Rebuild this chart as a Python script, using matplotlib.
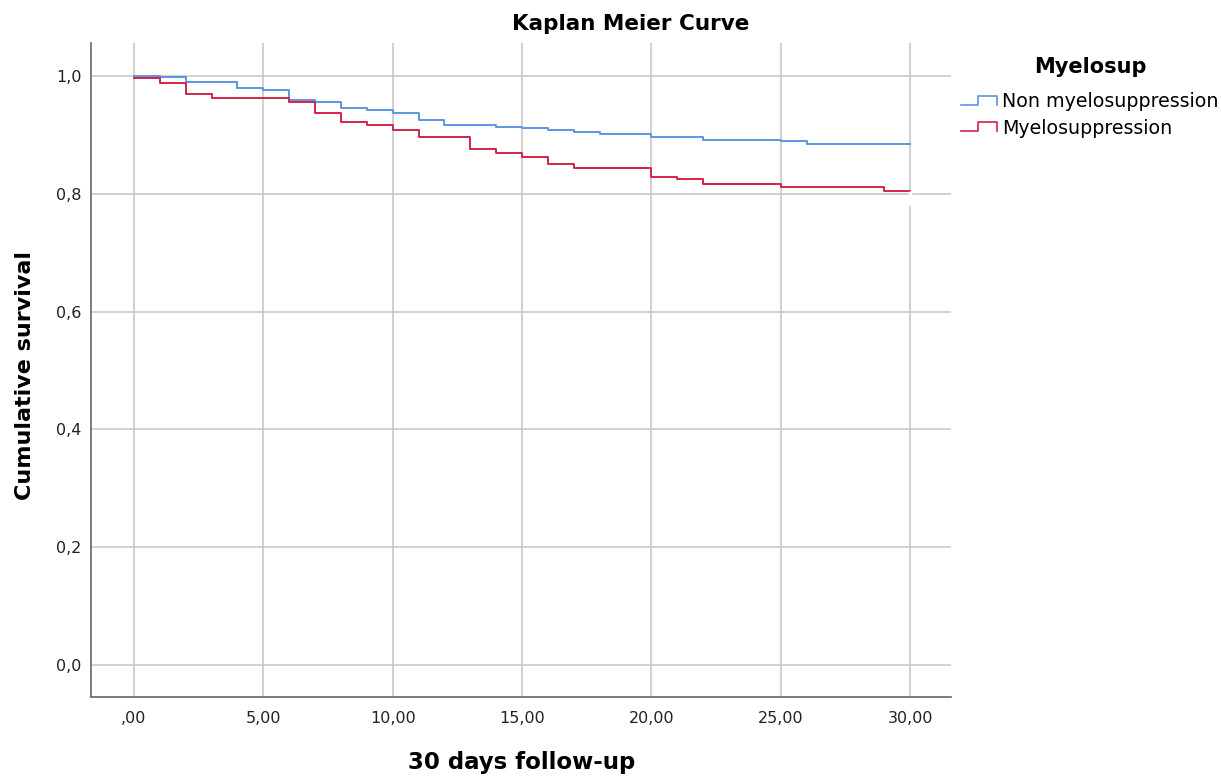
import matplotlib
matplotlib.use("Agg")
import matplotlib.pyplot as plt
from matplotlib.lines import Line2D
from matplotlib.legend_handler import HandlerBase

# ---- data ----
title = "Kaplan Meier Curve"
xlabel = "30 days follow-up"
ylabel = "Cumulative survival"
legend_title = "Myelosup"
groups = ["Non myelosuppression", "Myelosuppression"]

non_times = [0, 1, 2, 4, 5, 6, 7, 8, 9, 10, 11, 12, 14, 15, 16, 17, 18, 20, 22, 25, 26, 30]
non_surv = [1.000, 0.998, 0.989, 0.980, 0.976, 0.960, 0.955, 0.946, 0.942, 0.938, 0.925,
            0.917, 0.914, 0.912, 0.908, 0.905, 0.901, 0.897, 0.892, 0.890, 0.884, 0.884]

mye_times = [0, 1, 2, 3, 6, 7, 8, 9, 10, 11, 13, 14, 15, 16, 17, 20, 21, 22, 25, 29, 30]
mye_surv = [0.996, 0.988, 0.969, 0.962, 0.955, 0.937, 0.922, 0.916, 0.909, 0.896, 0.876,
            0.870, 0.862, 0.850, 0.843, 0.829, 0.825, 0.817, 0.811, 0.805, 0.805]

x_ticks = [0, 5, 10, 15, 20, 25, 30]
x_ticklabels = [",00", "5,00", "10,00", "15,00", "20,00", "25,00", "30,00"]
y_ticks = [0.0, 0.2, 0.4, 0.6, 0.8, 1.0]
y_ticklabels = ["0,0", "0,2", "0,4", "0,6", "0,8", "1,0"]

colors = ["#5b95e0", "#d4234b"]

W, H = 1221, 776
fig = plt.figure(figsize=(W / 100, H / 100), dpi=100)
ax = fig.add_axes([91 / W, 1 - 697 / H, (951 - 91) / W, (697 - 43) / H])

ax.set_xlim(-1.66, 31.58)
ax.set_ylim(-0.0543, 1.056)

ax.set_xticks(x_ticks)
ax.set_xticklabels(x_ticklabels)
ax.set_yticks(y_ticks)
ax.set_yticklabels(y_ticklabels)
ax.tick_params(length=0, labelsize=11.5, colors="#222222")
ax.tick_params(axis="x", pad=10)
ax.tick_params(axis="y", pad=7)

ax.grid(True, color="#c9c9c9", lw=1.2)
ax.set_axisbelow(True)
for s in ["top", "right"]:
    ax.spines[s].set_visible(False)
for s in ["left", "bottom"]:
    ax.spines[s].set_color("#666666")
    ax.spines[s].set_linewidth(1.2)

ax.step(non_times, non_surv, where="post", color=colors[0], lw=1.4, label=groups[0])
ax.step(mye_times, mye_surv, where="post", color=colors[1], lw=1.4, label=groups[1])
# censor tick at end of red curve
ax.plot([mye_times[-1]], [mye_surv[-1] - 0.012], marker="|", ms=10, mew=2.2, color="white")

fig.text(631 / W, 1 - 24 / H, title, ha="center", va="center", fontsize=15.5, fontweight="bold")
fig.text(522 / W, 1 - 762 / H, xlabel, ha="center", va="center", fontsize=16.5,
         fontweight="bold")
fig.text(25 / W, 1 - 375 / H, ylabel, ha="center", va="center", rotation=90, fontsize=16,
         fontweight="bold")


class StepHandler(HandlerBase):
    def create_artists(self, legend, orig_handle, xdescent, ydescent, width, height,
                       fontsize, trans):
        x0 = -xdescent
        y0 = -ydescent
        xs = [x0, x0 + 0.47 * width, x0 + 0.47 * width, x0 + width, x0 + width]
        ys = [y0 + 0.1 * height, y0 + 0.1 * height, y0 + 0.9 * height, y0 + 0.9 * height,
              y0 + 0.1 * height]
        ln = Line2D(xs, ys, color=orig_handle.get_color(), lw=1.2)
        ln.set_transform(trans)
        return [ln]


handles = [Line2D([], [], color=c) for c in colors]
leg = fig.legend(handles, groups, title=legend_title, loc="upper left",
                 bbox_to_anchor=(948 / W, 1 - 44 / H), frameon=False, fontsize=13.7,
                 title_fontproperties={"weight": "bold", "size": 15},
                 handler_map={Line2D: StepHandler()}, handlelength=1.88, handleheight=0.55,
                 handletextpad=0.26, labelspacing=0.4, borderpad=0.2)
# a bit more room between legend title and entries
leg._legend_box.sep = 10.5

fig.savefig("out.png", dpi=100, facecolor="white")
